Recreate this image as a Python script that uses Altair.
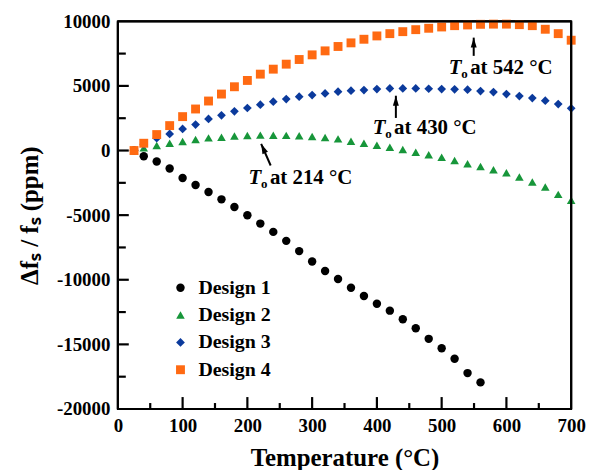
import altair as alt
import pandas as pd

FONT = "Liberation Serif"
W, H = 456, 390

series = ["Design 1", "Design 2", "Design 3", "Design 4"]
colors = ["#000000", "#17963A", "#0B3A9C", "#FF6A12"]
shapes = ["circle", "triangle-up", "diamond", "square"]
sizes = [72, 80, 85, 70]

temps = [25, 40, 60, 80, 100, 120, 140, 160, 180, 200, 220, 240, 260, 280, 300,
         320, 340, 360, 380, 400, 420, 440, 460, 480, 500, 520, 540, 560, 580,
         600, 620, 640, 660, 680, 700]

design1 = [0, -437, -848, -1388, -2133, -2673, -3213, -3778, -4369, -5012, -5655,
           -6296, -6990, -7784, -8580, -9329, -9946, -10617, -11257, -11851,
           -12390, -13055, -13750, -14572, -15294, -16119, -17222, -17941]
design2 = [0, 206, 386, 566, 694, 848, 977, 1028, 1131, 1157, 1190, 1180, 1170,
           1150, 1090, 1010, 900, 720, 566, 411, 257, 77, -129, -334, -514, -771,
           -1028, -1234, -1491, -1722, -2056, -2442, -2827, -3392, -3855]
design3 = [0, 480, 951, 1285, 1671, 2005, 2442, 2725, 3033, 3290, 3547, 3778, 3984,
           4163, 4292, 4420, 4549, 4626, 4678, 4755, 4806, 4806, 4806, 4780, 4755,
           4740, 4703, 4600, 4523, 4369, 4215, 4061, 3855, 3598, 3264]
design4 = [0, 563, 1234, 1928, 2622, 3213, 3830, 4369, 4934, 5422, 5910, 6296, 6682,
           7042, 7402, 7711, 8050, 8330, 8610, 8867, 9044, 9198, 9352, 9460, 9560,
           9661, 9715, 9766, 9780, 9780, 9740, 9661, 9383, 9044, 8535]

x_labels = [0, 100, 200, 300, 400, 500, 600, 700]
y_labels = [-20000, -15000, -10000, -5000, 0, 5000, 10000]
x_major = [100, 200, 300, 400, 500, 600]
x_minor = [50, 150, 250, 350, 450, 550, 650]
y_major = [-15000, -10000, -5000, 0, 5000]
y_minor = [-17500, -12500, -7500, -2500, 2500, 7500]

ann_temp = [511, 393.6, 201.8]
ann_val = [5914, 1288, -2567]
ann_text = ["at 542 °C", "at 430 °C", "at 214 °C"]
arrow_t1 = [549.5, 429.3, 236]
arrow_v1 = [7325, 2521, -1157]
arrow_t2 = [549.5, 429.3, 221.3]
arrow_v2 = [8735, 4240, 516]
arrow_ang = [0, 0, 336]

X0, X1, Y0, Y1 = 0, 700, -20000, 10000
PX_T = (X1 - X0) / W
PX_V = (Y1 - Y0) / H

rows = []
for name, vals in zip(series, [design1, design2, design3, design4]):
    for t, v in zip(temps, vals):
        rows.append({"T": t, "V": v, "series": name})
df = pd.DataFrame(rows)

xs = alt.Scale(domain=[X0, X1], nice=False, zero=False)
ys = alt.Scale(domain=[Y0, Y1], nice=False, zero=False)

x_axis = alt.Axis(values=x_labels, title="Temperature (°C)", titleFont=FONT,
                  titleFontSize=25, titleFontWeight="bold", titleColor="black",
                  titlePadding=10, labelFont=FONT, labelFontSize=19,
                  labelFontWeight="bold", labelColor="black", labelPadding=8,
                  ticks=False, domain=False, grid=False, labelFlush=False,
                  labelOverlap=False)
y_axis = alt.Axis(values=y_labels, title="Δfₛ / fₛ (ppm)", titleFont=FONT,
                  titleFontSize=25, titleFontWeight="bold", titleColor="black",
                  titlePadding=14, labelFont=FONT, labelFontSize=19,
                  labelFontWeight="bold", labelColor="black", labelPadding=8,
                  ticks=False, domain=False, grid=False, labelFlush=False,
                  labelOverlap=False, labelExpr="'' + datum.value")


def X(field="T"):
    return alt.X(f"{field}:Q", scale=xs, axis=x_axis)


def Y(field="V"):
    return alt.Y(f"{field}:Q", scale=ys, axis=y_axis)


legend = alt.Legend(title=None, orient="none", legendX=53, legendY=258,
                    labelFont=FONT, labelFontSize=20, labelFontWeight="bold",
                    labelColor="black", symbolSize=70, rowPadding=7.5,
                    labelOffset=8, padding=0, symbolStrokeWidth=0)

points = alt.Chart(df).mark_point(filled=True, opacity=1, strokeWidth=0).encode(
    x=X(), y=Y(),
    color=alt.Color("series:N", scale=alt.Scale(domain=series, range=colors), legend=legend),
    shape=alt.Shape("series:N", scale=alt.Scale(domain=series, range=shapes), legend=legend),
    size=alt.Size("series:N", scale=alt.Scale(domain=series, range=sizes), legend=None),
)

seg = []
seg += [{"T": X0, "V": Y0, "T2": X0, "V2": Y1}, {"T": X1, "V": Y0, "T2": X1, "V2": Y1},
        {"T": X0, "V": Y0, "T2": X1, "V2": Y0}, {"T": X0, "V": Y1, "T2": X1, "V2": Y1}]
for t in x_major:
    seg.append({"T": t, "V": Y0, "T2": t, "V2": Y0 + 12 * PX_V})
for t in x_minor:
    seg.append({"T": t, "V": Y0, "T2": t, "V2": Y0 + 6 * PX_V})
for v in y_major:
    seg.append({"T": X0, "V": v, "T2": X0 + 11 * PX_T, "V2": v})
for v in y_minor:
    seg.append({"T": X0, "V": v, "T2": X0 + 8 * PX_T, "V2": v})
frame = alt.Chart(pd.DataFrame(seg)).mark_rule(color="#000000", strokeWidth=2.2).encode(
    x=X(), y=Y(), x2="T2:Q", y2="V2:Q")

ann = pd.DataFrame({"T": ann_temp, "V": ann_val, "txt": ann_text})
t_txt = alt.Chart(ann).mark_text(align="left", baseline="alphabetic", font=FONT,
                                 fontSize=21, fontWeight="bold", fontStyle="italic",
                                 color="black").encode(x=X(), y=Y(), text=alt.value("T"))
o_txt = alt.Chart(ann).mark_text(align="left", baseline="alphabetic", font=FONT,
                                 fontSize=13, fontWeight="bold", dx=12.5, dy=4,
                                 color="black").encode(x=X(), y=Y(), text=alt.value("o"))
r_txt = alt.Chart(ann).mark_text(align="left", baseline="alphabetic", font=FONT,
                                 fontSize=21, fontWeight="bold", dx=21.5,
                                 color="black").encode(x=X(), y=Y(), text="txt:N")

arr = pd.DataFrame({"T": arrow_t1, "V": arrow_v1, "T2": arrow_t2, "V2": arrow_v2,
                    "ang": arrow_ang})
shaft = alt.Chart(arr).mark_rule(color="black", strokeWidth=2).encode(
    x=X(), y=Y(), x2="T2:Q", y2="V2:Q")
head = alt.Chart(arr).mark_point(shape="M0,0L-0.6,2L0.6,2Z", filled=True, color="black",
                                 opacity=1, size=100, strokeWidth=0).encode(
    x=X("T2"), y=Y("V2"), angle=alt.Angle("ang:Q", scale=None))

chart = alt.layer(shaft, head, t_txt, o_txt, r_txt, points, frame).properties(
    width=W, height=H,
    background="white",
    padding={"left": 110.5, "top": 12, "right": 30, "bottom": 60},
    autosize=alt.AutoSizeParams(type="none"),
).configure_view(stroke="black", strokeWidth=2)

chart.save("out.html", embed_options={"renderer": "svg", "actions": False})
